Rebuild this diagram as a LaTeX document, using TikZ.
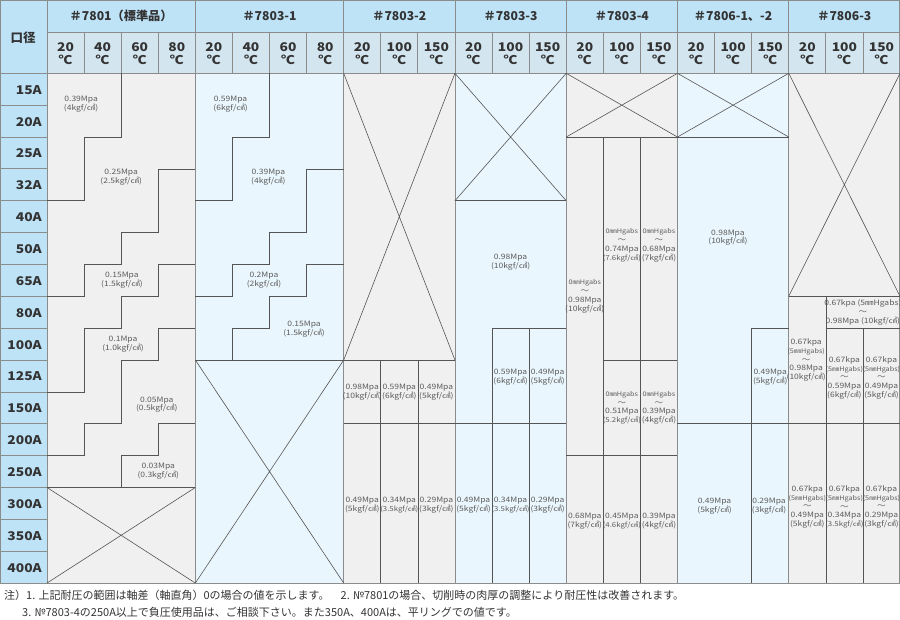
\documentclass[tikz,border=0pt]{standalone}
\usepackage{fontspec}
\newfontfamily\jp{Noto Sans CJK JP}
\newfontfamily\jpw[FakeStretch=1.15]{Noto Sans CJK JP}
\definecolor{hdrA}{HTML}{BEE3F7}
\definecolor{hdrB}{HTML}{D3E5EF}
\definecolor{bodyG}{HTML}{F0F0F0}
\definecolor{bodyB}{HTML}{EAF6FD}
\definecolor{gridc}{HTML}{8C8C8C}
\definecolor{linec}{HTML}{555555}
\definecolor{txt}{HTML}{333333}
\definecolor{valc}{HTML}{5C5C5C}
\newcommand{\mmf}{\fontsize{6.3}{8.8}\selectfont}
\newcommand{\kff}{\fontsize{6.8}{8.8}\selectfont}
\begin{document}
\begin{tikzpicture}[x=37.087pt,y=-31.86pt,
  val/.style={font=\jpw\fontsize{7.4}{8.8}\selectfont, text=valc, align=center, inner sep=0pt},
  grp/.style={font=\jp\bfseries\fontsize{12.2}{12}\selectfont, text=txt, inner sep=0pt},
  tmp/.style={font=\jpw\bfseries\fontsize{12}{13}\selectfont, text=txt, align=center, inner sep=0pt},
  sz/.style={font=\jpw\bfseries\fontsize{12}{12}\selectfont, text=txt, anchor=east, inner sep=0pt},
  note/.style={font=\jp\fontsize{11}{11}\selectfont, text=txt, anchor=west, inner sep=0pt},
  stair/.style={draw=linec, line width=0.6pt},
  gridl/.style={draw=gridc, line width=0.8pt}]
\useasboundingbox (-1.26729,-2.30069) rectangle (23,17.1594);
% fills
\fill[hdrA] (-1.26729,-2.30069) rectangle (0,16);
\fill[hdrA] (0,-2.30069) rectangle (23,-1.2869);
\fill[hdrB] (0,-1.2869) rectangle (23,0);
\fill[bodyG] (0,0) rectangle (4,16);
\fill[bodyB] (4,0) rectangle (8,16);
\fill[bodyG] (8,0) rectangle (11,16);
\fill[bodyB] (11,0) rectangle (14,16);
\fill[bodyG] (14,0) rectangle (17,16);
\fill[bodyB] (17,0) rectangle (20,16);
\fill[bodyG] (20,0) rectangle (23,16);
% grid
\foreach \c in {1,2,3,5,6,7,9,10,12,13,15,16,18,19,21,22}
  \draw[gridl] (\c,-1.2869) -- (\c,0);
\foreach \r in {1,...,15}
  \draw[gridl] (-1.26729,\r) -- (0,\r);
\draw[gridl] (0,-1.2869) -- (23,-1.2869);
\draw[gridl] (-1.26729,0) -- (23,0);
\draw[gridl] (-1.26729,-2.28) -- (23,-2.28);
\draw[gridl] (-1.26729,16) -- (23,16);
\foreach \c in {0,4,8,11,14,17,20}
  \draw[gridl] (\c,-2.30069) -- (\c,16);
\draw[gridl] (22.985,-2.30069) -- (22.985,16);
\draw[gridl] (-1.258,-2.30069) -- (-1.258,16);
% #7801
\draw[stair] (2,0) -- (2,2) -- (1,2) -- (1,4) -- (0,4);
\draw[stair] (4,3) -- (3,3) -- (3,5) -- (2,5) -- (2,6) -- (1,6) -- (1,7) -- (0,7);
\draw[stair] (4,6) -- (3,6) -- (3,7) -- (2,7) -- (2,8) -- (1,8) -- (1,10) -- (0,10);
\draw[stair] (4,8) -- (3,8) -- (3,9) -- (2,9) -- (2,11) -- (1,11) -- (1,12) -- (0,12);
\draw[stair] (4,11) -- (3,11) -- (3,12) -- (2,12) -- (2,13);
\draw[stair] (0,13) -- (4,13);
\draw[stair] (0,13) -- (4,16) (4,13) -- (0,16);
% #7803-1
\draw[stair] (6,0) -- (6,2) -- (5,2) -- (5,4) -- (4,4);
\draw[stair] (8,3) -- (7,3) -- (7,5) -- (6,5) -- (6,6) -- (5,6) -- (5,7) -- (4,7);
\draw[stair] (8,6) -- (7,6) -- (7,7) -- (6,7) -- (6,8) -- (5,8) -- (5,9);
\draw[stair] (4,9) -- (8,9);
\draw[stair] (4,9) -- (8,16) (8,9) -- (4,16);
% #7803-2
\draw[stair] (8,0) -- (11,9) (11,0) -- (8,9);
\draw[stair] (8,9) -- (11,9) (8,11) -- (11,11);
\draw[stair] (9,9) -- (9,16) (10,9) -- (10,16);
% #7803-3
\draw[stair] (11,0) -- (14,4) (14,0) -- (11,4);
\draw[stair] (11,4) -- (14,4) (12,8) -- (14,8) (11,11) -- (14,11);
\draw[stair] (12,8) -- (12,16) (13,8) -- (13,16);
% #7803-4
\draw[stair] (14,0) -- (17,2) (17,0) -- (14,2);
\draw[stair] (14,2) -- (17,2) (15,9) -- (17,9) (14,12) -- (17,12);
\draw[stair] (15,2) -- (15,16) (16,2) -- (16,16);
% #7806-1,-2
\draw[stair] (17,0) -- (20,2) (20,0) -- (17,2);
\draw[stair] (17,2) -- (20,2) (19,8) -- (20,8) (17,11) -- (20,11);
\draw[stair] (19,8) -- (19,16);
% #7806-3
\draw[stair] (20,0) -- (23,7) (23,0) -- (20,7);
\draw[stair] (20,7) -- (23,7) (21,8) -- (23,8) (20,11) -- (23,11);
\draw[stair] (21,7) -- (21,16) (22,8) -- (22,16);
% headers
\node[font=\jp\bfseries\fontsize{12.5}{12.5}\selectfont, text=txt] (hk) at (-0.647,-1.108) {口径};
\node[grp] (h1) at (2,-1.7938) {＃7801（標準品）};
\node[grp] (h2) at (6,-1.7938) {＃7803-1};
\node[grp] (h3) at (9.5,-1.7938) {＃7803-2};
\node[grp] (h4) at (12.5,-1.7938) {＃7803-3};
\node[grp] (h5) at (15.5,-1.7938) {＃7803-4};
\node[grp] (h6) at (18.5,-1.7938) {＃7806-1、-2};
\node[grp] (h7) at (21.5,-1.7938) {＃7806-3};
\foreach \c/\t in {0/20,1/40,2/60,3/80,4/20,5/40,6/60,7/80,8/20,9/100,10/150,11/20,12/100,13/150,14/20,15/100,16/150,17/20,18/100,19/150,20/20,21/100,22/150}
  \node[tmp] (t\c) at (\c+0.5,-0.63) {\t\\℃};
\foreach \r/\t in {0/15A,1/20A,2/25A,3/32A,4/40A,5/50A,6/65A,7/80A,8/100A,9/125A,10/150A,11/200A,12/250A,13/300A,14/350A,15/400A}
  \node[sz] (s\r) at (-0.135,\r+0.52) {\t};
% #7801 values
\node[val] (a1) at (0.92,0.98) {0.39Mpa\\(4kgf/㎠)};
\node[val] (a2) at (2,3.27) {0.25Mpa\\(2.5kgf/㎠)};
\node[val] (a3) at (2.02,6.5) {0.15Mpa\\(1.5kgf/㎠)};
\node[val] (a4) at (2.05,8.5) {0.1Mpa\\(1.0kgf/㎠)};
\node[val] (a5) at (2.96,10.4) {0.05Mpa\\(0.5kgf/㎠)};
\node[val] (a6) at (3.0,12.48) {0.03Mpa\\(0.3kgf/㎠)};
% #7803-1 values
\node[val] (b1) at (4.95,0.98) {0.59Mpa\\(6kgf/㎠)};
\node[val] (b2) at (5.97,3.27) {0.39Mpa\\(4kgf/㎠)};
\node[val] (b3) at (5.85,6.5) {0.2Mpa\\(2kgf/㎠)};
\node[val] (b4) at (6.93,8.04) {0.15Mpa\\(1.5kgf/㎠)};
% #7803-2 values
\node[val] (c1) at (8.5,10) {0.98Mpa\\(10kgf/㎠)};
\node[val] (c2) at (9.5,10) {0.59Mpa\\(6kgf/㎠)};
\node[val] (c3) at (10.5,10) {0.49Mpa\\(5kgf/㎠)};
\node[val] (c4) at (8.5,13.55) {0.49Mpa\\(5kgf/㎠)};
\node[val] (c5) at (9.5,13.55) {0.34Mpa\\{\kff(3.5kgf/㎠)}};
\node[val] (c6) at (10.5,13.55) {0.29Mpa\\(3kgf/㎠)};
% #7803-3 values
\node[val] (d1) at (12.5,5.92) {0.98Mpa\\(10kgf/㎠)};
\node[val] (d2) at (12.5,9.53) {0.59Mpa\\(6kgf/㎠)};
\node[val] (d3) at (13.5,9.53) {0.49Mpa\\(5kgf/㎠)};
\node[val] (d4) at (11.5,13.55) {0.49Mpa\\(5kgf/㎠)};
\node[val] (d5) at (12.5,13.55) {0.34Mpa\\{\kff(3.5kgf/㎠)}};
\node[val] (d6) at (13.5,13.55) {0.29Mpa\\(3kgf/㎠)};
% #7803-4 values
\node[val] (e1) at (14.5,7.0) {{\mmf 0㎜Hgabs}\\～\\0.98Mpa\\(10kgf/㎠)};
\node[val] (e2) at (15.5,5.4) {{\mmf 0㎜Hgabs}\\～\\0.74Mpa\\{\kff(7.6kgf/㎠)}};
\node[val] (e3) at (16.5,5.4) {{\mmf 0㎜Hgabs}\\～\\0.68Mpa\\(7kgf/㎠)};
\node[val] (e4) at (15.5,10.5) {{\mmf 0㎜Hgabs}\\～\\0.51Mpa\\{\kff(5.2kgf/㎠)}};
\node[val] (e5) at (16.5,10.5) {{\mmf 0㎜Hgabs}\\～\\0.39Mpa\\(4kgf/㎠)};
\node[val] (e6) at (14.5,14.05) {0.68Mpa\\(7kgf/㎠)};
\node[val] (e7) at (15.5,14.05) {0.45Mpa\\{\kff(4.6kgf/㎠)}};
\node[val] (e8) at (16.5,14.05) {0.39Mpa\\(4kgf/㎠)};
% #7806-1,-2 values
\node[val] (f1) at (18.36,5.16) {0.98Mpa\\(10kgf/㎠)};
\node[val] (f2) at (19.5,9.53) {0.49Mpa\\(5kgf/㎠)};
\node[val] (f3) at (18,13.58) {0.49Mpa\\(5kgf/㎠)};
\node[val] (f4) at (19.47,13.58) {0.29Mpa\\(3kgf/㎠)};
% #7806-3 values
\node[val] (g1) at (22,7.51) {0.67kpa (5㎜Hgabs)\\～\\0.98Mpa (10kgf/㎠)};
\node[val] (g2) at (20.47,9.0) {0.67kpa\\{\mmf(5㎜Hgabs)}\\～\\0.98Mpa\\(10kgf/㎠)};
\node[val] (g3) at (21.5,9.56) {0.67kpa\\{\mmf(5㎜Hgabs)}\\～\\0.59Mpa\\(6kgf/㎠)};
\node[val] (g4) at (22.5,9.56) {0.67kpa\\{\mmf(5㎜Hgabs)}\\～\\0.49Mpa\\(5kgf/㎠)};
\node[val] (g5) at (20.5,13.61) {0.67kpa\\{\mmf(5㎜Hgabs)}\\～\\0.49Mpa\\(5kgf/㎠)};
\node[val] (g6) at (21.5,13.61) {0.67kpa\\{\mmf(5㎜Hgabs)}\\～\\0.34Mpa\\{\kff(3.5kgf/㎠)}};
\node[val] (g7) at (22.5,13.61) {0.67kpa\\{\mmf(5㎜Hgabs)}\\～\\0.29Mpa\\(3kgf/㎠)};
% notes
\node[note] (n1) at (-1.1594,16.375) {注）1. 上記耐圧の範囲は軸差（軸直角）0の場合の値を示します。　2. №7801の場合、切削時の肉厚の調整により耐圧性は改善されます。};
\node[note] (n2) at (-0.6741,16.908) {3. №7803-4の250A以上で負圧使用品は、ご相談下さい。また350A、400Aは、平リングでの値です。};
\end{tikzpicture}
\end{document}
